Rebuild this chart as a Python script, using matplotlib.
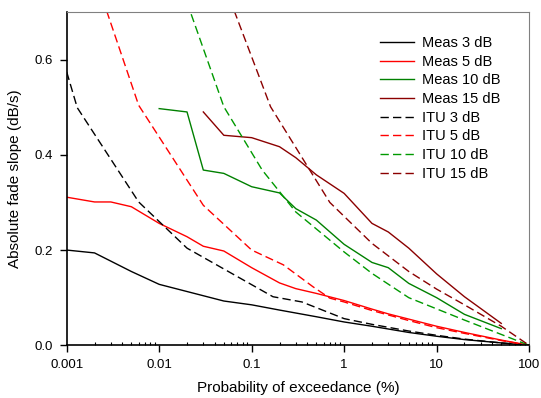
import matplotlib
matplotlib.use("Agg")
import matplotlib.pyplot as plt
from matplotlib.ticker import FixedLocator, LogLocator, NullFormatter

plt.rcParams['font.family'] = ['Liberation Sans', 'DejaVu Sans']

# measured curves
x_m3 = [0.001, 0.002, 0.005, 0.01, 0.05, 0.1, 0.2, 0.5, 1, 2, 5, 10, 20, 50, 100]
y_m3 = [0.200, 0.194, 0.155, 0.128, 0.093, 0.085, 0.074, 0.060, 0.049, 0.040, 0.027, 0.019, 0.012, 0.005, 0.0]

x_m5 = [0.001, 0.002, 0.003, 0.005, 0.01, 0.02, 0.03, 0.05, 0.1, 0.2, 0.3, 0.5, 1, 2, 3, 5, 10, 20, 50, 100]
y_m5 = [0.311, 0.301, 0.301, 0.291, 0.256, 0.228, 0.208, 0.198, 0.163, 0.131, 0.119, 0.109, 0.094, 0.076, 0.066, 0.055, 0.040, 0.027, 0.011, 0.0]

x_m10 = [0.01, 0.02, 0.03, 0.05, 0.1, 0.2, 0.3, 0.5, 1, 2, 3, 5, 10, 20, 50]
y_m10 = [0.497, 0.490, 0.368, 0.361, 0.333, 0.320, 0.287, 0.263, 0.212, 0.174, 0.163, 0.130, 0.100, 0.065, 0.035]

x_m15 = [0.03, 0.05, 0.1, 0.2, 0.3, 0.5, 1, 2, 3, 5, 10, 20, 50]
y_m15 = [0.490, 0.441, 0.436, 0.417, 0.394, 0.358, 0.319, 0.256, 0.238, 0.204, 0.150, 0.102, 0.046]

# ITU model curves
x_i3 = [0.001, 0.0013, 0.006, 0.02, 0.17, 0.35, 1, 2, 5, 10, 20, 50, 100]
y_i3 = [0.574, 0.499, 0.301, 0.204, 0.102, 0.091, 0.056, 0.044, 0.030, 0.021, 0.013, 0.005, 0.0]

x_i5 = [0.002, 0.006, 0.03, 0.1, 0.22, 0.46, 0.7, 1, 2, 5, 10, 20, 50, 100]
y_i5 = [0.777, 0.504, 0.294, 0.200, 0.169, 0.123, 0.099, 0.091, 0.073, 0.052, 0.037, 0.025, 0.010, 0.0]

x_i10 = [0.02, 0.05, 0.13, 0.3, 1, 2, 5, 20, 100]
y_i10 = [0.72, 0.501, 0.368, 0.280, 0.196, 0.151, 0.100, 0.053, 0.0]

x_i15 = [0.05, 0.16, 0.7, 2, 5, 10, 20, 50, 100]
y_i15 = [0.76, 0.501, 0.300, 0.214, 0.155, 0.118, 0.085, 0.040, 0.0]

fig = plt.figure(figsize=(5.41, 3.98), dpi=100)
ax = fig.add_axes([0.1233, 0.1324, 0.8547, 0.8376])

dash = (6, 3)
ax.plot(x_m3, y_m3, color='black', lw=1, label='Meas 3 dB')
ax.plot(x_m5, y_m5, color='#ff0000', lw=1, label='Meas 5 dB')
ax.plot(x_m10, y_m10, color='#008000', lw=1, label='Meas 10 dB')
ax.plot(x_m15, y_m15, color='#8b0000', lw=1, label='Meas 15 dB')
ax.plot(x_i3, y_i3, color='black', lw=1, dashes=dash, label='ITU 3 dB')
ax.plot(x_i5, y_i5, color='#ff0000', lw=1, dashes=dash, label='ITU 5 dB')
ax.plot(x_i10, y_i10, color='#009900', lw=1, dashes=dash, label='ITU 10 dB')
ax.plot(x_i15, y_i15, color='#8b0000', lw=1, dashes=dash, label='ITU 15 dB')

ax.set_xscale('log')
ax.set_xlim(0.001, 100)
ax.set_ylim(0, 0.7)
ax.set_xticks([0.001, 0.01, 0.1, 1, 10, 100])
ax.set_xticklabels(['0.001', '0.01', '0.1', '1', '10', '100'])
ax.xaxis.set_minor_locator(LogLocator(base=10, subs=range(2, 10), numticks=20))
ax.xaxis.set_minor_formatter(NullFormatter())
ax.yaxis.set_major_locator(FixedLocator([0, 0.2, 0.4, 0.6]))
ax.set_yticklabels(['0.0', '0.2', '0.4', '0.6'])

ax.tick_params(axis='both', which='major', direction='out', length=5, width=1, labelsize=9.5, colors='black')
ax.tick_params(axis='x', which='minor', direction='in', length=2.5, width=0.8)
ax.tick_params(axis='x', which='major', pad=5)
ax.tick_params(axis='y', which='major', pad=5)

ax.spines['left'].set_linewidth(1.2)
ax.spines['bottom'].set_linewidth(1.2)
ax.spines['top'].set_color('#808080')
ax.spines['right'].set_color('#808080')

ax.set_xlabel('Probability of exceedance (%)', fontsize=11, labelpad=7)
ax.set_ylabel('Absolute fade slope (dB/s)', fontsize=11, labelpad=9)

ax.legend(loc='upper left', frameon=False, fontsize=10.5, handlelength=2.3,
          labelspacing=0.32, bbox_to_anchor=(0.665, 0.945), borderaxespad=0,
          handletextpad=0.6)

fig.savefig('out.png', dpi=100)
